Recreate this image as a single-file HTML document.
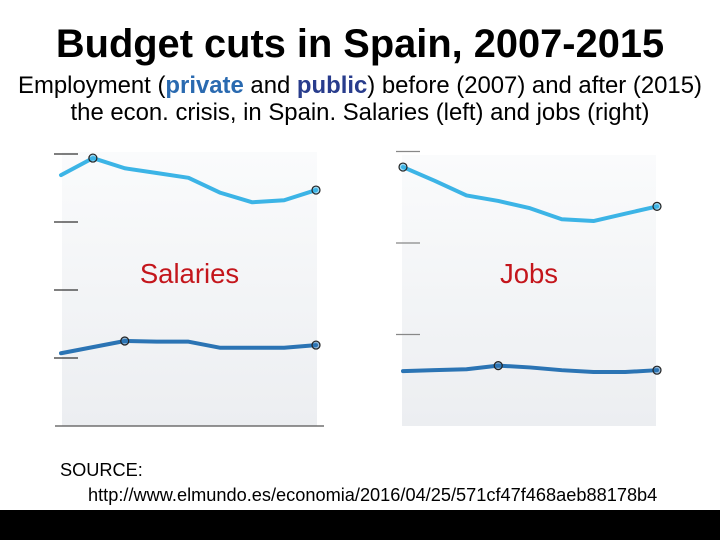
<!DOCTYPE html>
<html><head><meta charset="utf-8"><style>
body{margin:0;width:720px;height:540px;overflow:hidden;background:#fff;font-family:"Liberation Sans",sans-serif;position:relative}
.t{position:absolute;left:0;width:720px;text-align:center;white-space:nowrap}
</style></head><body>
<div class="t" style="top:22px;font-size:39.8px;font-weight:bold">Budget cuts in Spain, 2007-2015</div>
<div class="t" style="top:72px;font-size:23.9px;line-height:27px">Employment (<span style="color:#2a6ab0;font-weight:bold">private</span> and <span style="color:#283c8c;font-weight:bold">public</span>) before (2007) and after (2015)<br>the econ. crisis, in Spain. Salaries (left) and jobs (right)</div>
<svg width="720" height="540" style="position:absolute;left:0;top:0">
<defs><linearGradient id="g" x1="0" y1="0" x2="0" y2="1"><stop offset="0" stop-color="#fafbfc"/><stop offset="1" stop-color="#eceef1"/></linearGradient></defs>
<g id="left"></g>
<g id="right"></g>
</svg>
<div style="position:absolute;left:60px;top:458px;font-size:18.2px;line-height:25px;white-space:nowrap">SOURCE:<br><span style="padding-left:28px">http://www.elmundo.es/economia/2016/04/25/571cf47f468aeb88178b4</span><br><span style="padding-left:28px">070.html</span></div>
<div style="position:absolute;left:0;top:510px;width:720px;height:30px;background:#000"></div>
<script>
const years=[2007,2008,2009,2010,2011,2012,2013,2014,2015];
const salPrivate=[36.9,39.4,37.9,37.2,36.5,34.3,32.9,33.2,34.7];
const salPublic=[10.7,11.6,12.5,12.4,12.4,11.5,11.5,11.5,11.9];
const salTicks=[0,10,20,30,40];
const jobPrivate=[283,268,252,246,238,226,224,232,240];
const jobPublic=[60,61,62,66,64,61,59,59,61];
const jobTicks=[100,200,300];
const salMarkersPriv=[1,8],salMarkersPub=[2,8];
const jobMarkersPriv=[0,8],jobMarkersPub=[3,8];
const NS="http://www.w3.org/2000/svg";
function mk(p,t,a){const e=document.createElementNS(NS,t);for(const k in a)e.setAttribute(k,a[k]);p.appendChild(e);return e;}
function draw(g,o){
 const x=i=>o.x0+(o.x1-o.x0)*(i/(years.length-1));
 const y=v=>o.yb-v*o.k;
 const bg=mk(g,'rect',{x:o.bx,y:o.by,width:o.bw,height:o.yb-o.by,fill:'url(#g)'});
 
 o.ticks.forEach(t=>{const l=mk(g,'line',{x1:o.tx,x2:o.tx+24,y1:y(t),y2:y(t),stroke:o.tc,'stroke-width':1.2});
  });
 if(o.axis){const a=mk(g,'line',{x1:55,x2:324,y1:o.yb,y2:o.yb,stroke:'#555','stroke-width':1.2});
  }
 const lab=mk(g,'text',{x:(o.bx+o.bw/2),y:283,'text-anchor':'middle','font-size':27.5,fill:'#c4161c','font-family':'Liberation Sans, sans-serif'});
 lab.textContent=o.label;
 [[o.priv,'#3cb4e6',o.mp,'private-line'],[o.pub,'#2b74b4',o.mu,'public-line']].forEach(([s,c,m,n])=>{
  const p=mk(g,'polyline',{points:s.map((v,i)=>x(i)+','+y(v)).join(' '),fill:'none',stroke:c,'stroke-width':4,'stroke-linejoin':'round','stroke-linecap':'round'});
  
  m.forEach(i=>{const cc=mk(g,'circle',{cx:x(i),cy:y(s[i]),r:4,fill:c,stroke:'#222','stroke-width':1.2,'fill-opacity':0.5});
   });
 });
}
draw(document.getElementById('left'),{x0:61,x1:316,yb:426,k:6.8,bx:62,by:152,bw:255,ticks:salTicks.slice(1),tx:54,tc:'#333',axis:true,label:'Salaries',priv:salPrivate,pub:salPublic,mp:salMarkersPriv,mu:salMarkersPub});
draw(document.getElementById('right'),{x0:403,x1:657,yb:426,k:0.915,bx:402,by:155,bw:254,ticks:jobTicks,tx:396,tc:'#888',axis:false,label:'Jobs',priv:jobPrivate,pub:jobPublic,mp:jobMarkersPriv,mu:jobMarkersPub});
</script>
</body></html>
